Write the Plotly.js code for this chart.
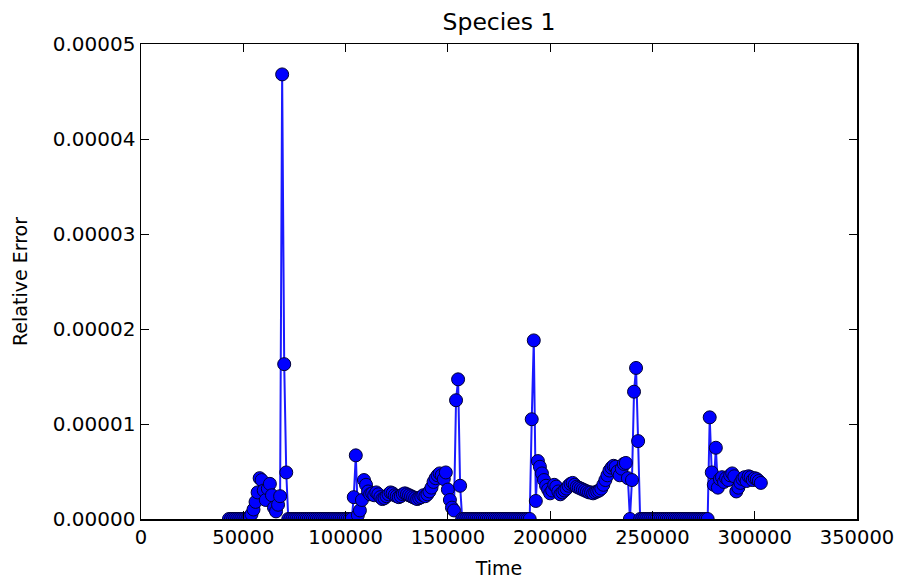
<!DOCTYPE html>
<html>
<head>
<meta charset="utf-8">
<script src="https://cdn.plot.ly/plotly-3.0.1.min.js"></script>
<style>html,body{margin:0;padding:0;background:#fff;}#chart{width:898px;height:586px;}</style>
</head>
<body>
<div id="chart"></div>
<script>
// Segment 1: zeros then first burst with large spike
const tA = [43000,44000,45000,46000,47000,48000,49000,50000,51000,52000,
  53000,54000,55000,56000,57000,58000,59000,60000,61000,62000,63000,64000,65000,66000,67000,68000,69000,70000,71000];
const eA = [0,0,0,0,0,0,0,0,0,0,
  0.2e-6,0.5e-6,1.0e-6,1.8e-6,2.8e-6,4.3e-6,4.1e-6,3.0e-6,2.0e-6,3.2e-6,3.7e-6,2.5e-6,1.2e-6,0.8e-6,1.5e-6,2.4e-6,4.68e-5,1.63e-5,4.9e-6];

const tZ1 = [72000,73000,74000,75000,76000,77000,78000,79000,80000,81000,82000,83000,84000,85000,86000,87000,88000,89000,90000,91000,92000,93000,94000,95000,96000,97000,98000,99000,100000,101000,102000,103000];
const eZ1 = [0,0,0,0,0,0,0,0,0,0,0,0,0,0,0,0,0,0,0,0,0,0,0,0,0,0,0,0,0,0,0,0];

const tB = [104000,105000,106000,107000,108000,109000,110000,111000,112000,113000,114000,115000,116000,117000,118000,119000,120000,
  121000,122000,123000,124000,125000,126000,127000,128000,129000,130000,131000,132000,133000,134000,135000,136000,137000,138000,139000,140000,
  141000,142000,143000,144000,145000,146000,147000,148000,149000,150000,151000,152000,153000,154000,155000,156000];
const eB = [2.3e-6,6.7e-6,0.4e-6,0.9e-6,2.0e-6,4.1e-6,3.6e-6,2.9e-6,2.6e-6,2.7e-6,2.5e-6,2.8e-6,2.6e-6,2.3e-6,2.1e-6,2.2e-6,2.4e-6,
  2.6e-6,2.8e-6,2.7e-6,2.5e-6,2.4e-6,2.3e-6,2.4e-6,2.6e-6,2.7e-6,2.6e-6,2.5e-6,2.4e-6,2.3e-6,2.2e-6,2.1e-6,2.2e-6,2.3e-6,2.5e-6,2.4e-6,2.6e-6,
  2.9e-6,3.3e-6,3.9e-6,4.3e-6,4.6e-6,4.8e-6,4.6e-6,4.2e-6,4.9e-6,3.1e-6,2.0e-6,1.2e-6,0.9e-6,1.25e-5,1.47e-5,3.5e-6];

const tZ2 = [157000,158000,159000,160000,161000,162000,163000,164000,165000,166000,167000,168000,169000,170000,171000,172000,173000,174000,175000,176000,177000,178000,179000,180000,181000,182000,183000,184000,185000,186000,187000,188000,189000,190000];
const eZ2 = [0,0,0,0,0,0,0,0,0,0,0,0,0,0,0,0,0,0,0,0,0,0,0,0,0,0,0,0,0,0,0,0,0,0];

const tC = [191000,192000,193000,194000,195000,196000,197000,198000,199000,200000,201000,202000,203000,204000,205000,206000,207000,208000,209000,210000,
  211000,212000,213000,214000,215000,216000,217000,218000,219000,220000,221000,222000,223000,224000,225000,226000,227000,228000,229000,230000,
  231000,232000,233000,234000,235000,236000,237000,238000,239000,240000,241000,242000,243000];
const eC = [1.05e-5,1.88e-5,1.9e-6,6.1e-6,5.5e-6,4.8e-6,4.1e-6,3.5e-6,3.1e-6,2.7e-6,3.0e-6,3.6e-6,3.4e-6,2.9e-6,2.6e-6,2.8e-6,3.0e-6,3.2e-6,3.5e-6,3.7e-6,
  3.8e-6,3.6e-6,3.4e-6,3.3e-6,3.2e-6,3.1e-6,3.0e-6,2.9e-6,2.8e-6,2.8e-6,2.7e-6,2.8e-6,2.9e-6,3.0e-6,3.2e-6,3.6e-6,4.1e-6,4.6e-6,5.1e-6,5.4e-6,
  5.6e-6,5.5e-6,5.0e-6,4.6e-6,5.3e-6,5.8e-6,5.9e-6,4.3e-6,0,4.1e-6,1.34e-5,1.59e-5,8.2e-6];

const tZ3 = [244000,245000,246000,247000,248000,249000,250000,251000,252000,253000,254000,255000,256000,257000,258000,259000,260000,261000,262000,263000,264000,265000,266000,267000,268000,269000,270000,271000,272000,273000,274000,275000,276000,277000];
const eZ3 = [0,0,0,0,0,0,0,0,0,0,0,0,0,0,0,0,0,0,0,0,0,0,0,0,0,0,0,0,0,0,0,0,0,0];

const tD = [278000,279000,280000,281000,282000,283000,284000,285000,286000,287000,288000,289000,290000,291000,292000,293000,294000,295000,296000,297000,298000,299000,300000,301000,302000,303000];
const eD = [1.07e-5,4.9e-6,3.6e-6,7.5e-6,3.3e-6,4.2e-6,4.4e-6,3.9e-6,4.3e-6,4.1e-6,4.6e-6,4.8e-6,4.5e-6,2.9e-6,3.3e-6,3.8e-6,4.2e-6,4.4e-6,4.0e-6,4.5e-6,4.4e-6,4.1e-6,4.3e-6,4.2e-6,4.0e-6,3.8e-6];

const time = [].concat(tA, tZ1, tB, tZ2, tC, tZ3, tD);
const relError = [].concat(eA, eZ1, eB, eZ2, eC, eZ3, eD);

const xTicks = [0,50000,100000,150000,200000,250000,300000,350000];
const yTicks = [0,0.00001,0.00002,0.00003,0.00004,0.00005];

const trace = {
  x: time, y: relError, type: 'scatter', mode: 'lines+markers',
  line: {color: '#1a1aff', width: 2},
  marker: {color: '#0000ff', size: 13, line: {color: '#000033', width: 1}},
  hoverinfo: 'none'
};

const fontFam = 'DejaVu Sans, sans-serif';
const layout = {
  width: 898, height: 586,
  margin: {l: 141, r: 41, t: 44, b: 67},
  paper_bgcolor: '#ffffff', plot_bgcolor: '#ffffff',
  showlegend: false,
  font: {family: fontFam, color: '#000000', size: 19},
  title: {text: 'Species 1', font: {family: fontFam, size: 23.5, color: '#000'}, x: 0.5, xref: 'paper', xanchor: 'center', y: 0.962, yanchor: 'middle'},
  xaxis: {
    range: [0, 350000], tickvals: xTicks, ticktext: xTicks.map(String),
    ticks: 'inside', ticklen: 8, tickwidth: 1, tickcolor: '#000',
    showline: true, linecolor: '#000', linewidth: 1.5, mirror: 'ticks',
    showgrid: false, zeroline: false,
    tickfont: {family: fontFam, size: 19.5, color: '#000'},
    title: {text: 'Time', font: {family: fontFam, size: 19, color: '#000'}, standoff: 14}
  },
  yaxis: {
    range: [0, 0.00005], tickvals: yTicks, ticktext: yTicks.map(v => v.toFixed(5)),
    ticks: 'inside', ticklen: 8, tickwidth: 1, tickcolor: '#000',
    showline: true, linecolor: '#000', linewidth: 1.5, mirror: 'ticks',
    showgrid: false, zeroline: false,
    tickfont: {family: fontFam, size: 20, color: '#000'},
    title: {text: 'Relative Error', font: {family: fontFam, size: 19, color: '#000'}, standoff: 20}
  }
};

Plotly.newPlot('chart', [trace], layout, {displayModeBar: false, staticPlot: true});
</script>
</body>
</html>
